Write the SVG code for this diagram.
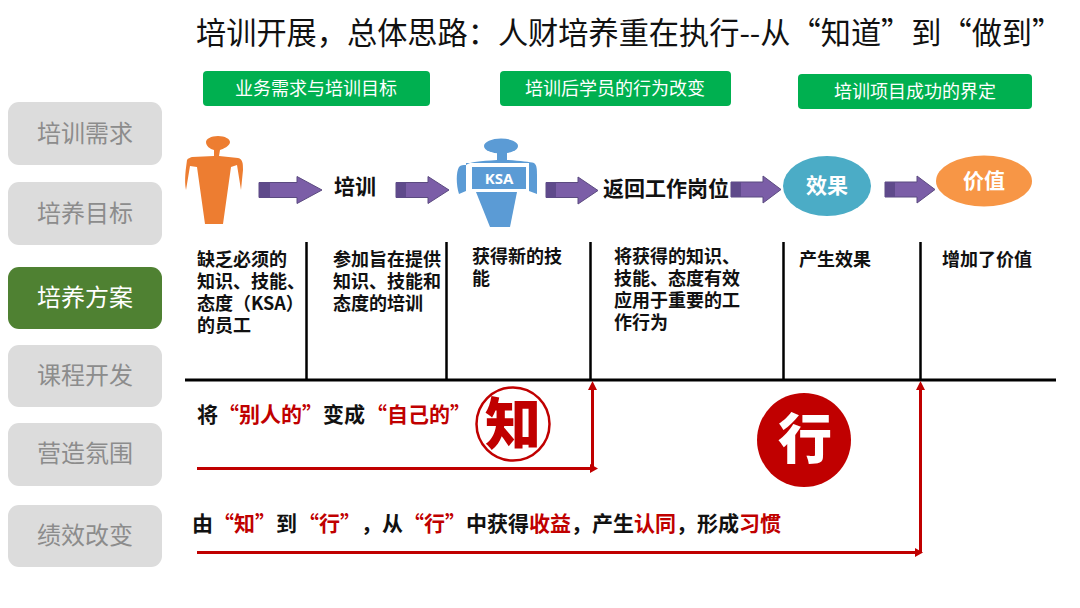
<svg xmlns="http://www.w3.org/2000/svg" width="1080" height="608" viewBox="0 0 1080 608">
<style>
text{font-family:"Microsoft YaHei","Noto Sans CJK SC","Noto Sans",sans-serif}
.side{fill:#dcdcdc}
.st{font-size:24px;fill:#8c8c8c;text-anchor:middle}
.g{fill:#00b050}
.gt{font-size:18px;fill:#fff;text-anchor:middle}
.b{font-size:21px;font-weight:700;fill:#111}
.d{font-size:18px;font-weight:700;fill:#111}
.r{fill:#c00000}
.ln{stroke:#000;stroke-width:2.5;fill:none}
.rl{stroke:#c00000;stroke-width:3;fill:none}
.w{fill:#fff;font-weight:700;text-anchor:middle}
.ar{fill:#7b5ea7;stroke:#5b4a80;stroke-width:1}
.at{fill:#5f4a8b}
.blue{fill:#5b9bd5}
</style>
<text id="title" x="196" y="44" font-size="30.200" fill="#111">培训开展，总体思路：人财培养重在执行--从“知道”到“做到”</text>
<g id="side1"><rect class="side" x="8" y="102" width="154" height="63" rx="11"/><text class="st" x="85" y="142">培训需求</text></g>
<g id="side2"><rect class="side" x="8" y="182" width="154" height="63" rx="11"/><text class="st" x="85" y="222">培养目标</text></g>
<g id="side3"><rect x="8" y="267" width="154" height="62" rx="11" fill="#4f8132"/><text class="st" style="fill:#fff" x="85" y="306">培养方案</text></g>
<g id="side4"><rect class="side" x="8" y="345" width="154" height="62" rx="11"/><text class="st" x="85" y="384">课程开发</text></g>
<g id="side5"><rect class="side" x="8" y="423" width="154" height="63" rx="11"/><text class="st" x="85" y="462">营造氛围</text></g>
<g id="side6"><rect class="side" x="8" y="505" width="154" height="62" rx="11"/><text class="st" x="85" y="544">绩效改变</text></g>
<g id="tag1"><rect class="g" x="203" y="71" width="227" height="35" rx="4"/><text class="gt" x="316" y="95">业务需求与培训目标</text></g>
<g id="tag2"><rect class="g" x="500" y="71" width="231" height="35" rx="4"/><text class="gt" x="615" y="95">培训后学员的行为改变</text></g>
<g id="tag3"><rect class="g" x="798" y="74" width="234" height="35" rx="4"/><text class="gt" x="915" y="98">培训项目成功的界定</text></g>
<g id="person1"><path fill="#ed7d31" d="M218 136C225 136 230 139 230 142C230 146 223 149 220 150L219 156L238 158C243 159 243 164 243 170L241 190L237 165L231 167L223 224H205L197 167L190 166L186 190C184 180 186 168 187 160C188 158 190 158 192 157L214 156L214 150C210 149 206 146 206 142C206 139 211 136 218 136Z"/></g>
<g id="person2">
<ellipse class="blue" cx="501" cy="146" rx="17" ry="7.500"/>
<rect class="blue" x="497" y="150" width="10" height="12"/>
<path class="blue" d="M466 165C470 162 480 161 497 160H507C520 161 530 162 534 163C537 165 537 170 537 175V194L529 191V163H466V191L459 194C456 185 456 172 459 167C461 165 463 165 466 165Z"/>
<path class="blue" d="M476 192H517L510 227H490Z"/>
<rect class="blue" x="472" y="167" width="54" height="22"/>
<text class="w" x="499" y="184" font-size="15" style="font-family:'Noto Sans',sans-serif">KSA</text></g>
<g id="n-train"><text class="b" x="334" y="194">培训</text></g>
<g id="n-return"><text class="b" x="603" y="196">返回工作岗位</text></g>
<g id="n-effect"><ellipse cx="827" cy="186" rx="44" ry="30" fill="#4bacc6"/><text class="w" x="827" y="193" font-size="21">效果</text></g>
<g id="n-value"><ellipse cx="984" cy="181" rx="48" ry="25.500" fill="#f79646"/><text class="w" x="984" y="188" font-size="21">价值</text></g>
<g id="desc">
<text class="d" x="197" y="266">缺乏必须的</text><text class="d" x="197" y="288">知识、技能、</text><text class="d" x="197" y="310">态度（KSA）</text><text class="d" x="197" y="332">的员工</text>
<text class="d" x="333" y="266">参加旨在提供</text><text class="d" x="333" y="288">知识、技能和</text><text class="d" x="333" y="310">态度的培训</text>
<text class="d" x="472" y="263">获得新的技</text><text class="d" x="472" y="285">能</text>
<text class="d" x="614" y="263">将获得的知识、</text><text class="d" x="614" y="285">技能、态度有效</text><text class="d" x="614" y="307">应用于重要的工</text><text class="d" x="614" y="329">作行为</text>
<text class="d" x="799" y="266">产生效果</text>
<text class="d" x="942" y="266">增加了价值</text>
</g>
<g id="zhi"><circle cx="513" cy="424" r="36.500" fill="#fff" stroke="#c00000" stroke-width="2.500"/><text x="513" y="444" font-size="56" font-weight="900" fill="#c00000" text-anchor="middle">知</text></g>
<g id="xing"><circle cx="804" cy="440" r="47" fill="#c00000"/><text x="805" y="459" font-size="54" font-weight="900" fill="#fff" text-anchor="middle">行</text></g>
<g id="line1"><text class="b" y="422"><tspan x="197">将</tspan><tspan class="r" x="218">“</tspan><tspan class="r" x="239">别人的</tspan><tspan class="r" x="302">”</tspan><tspan x="323">变成</tspan><tspan class="r" x="366">“</tspan><tspan class="r" x="387">自己的</tspan><tspan class="r" x="450">”</tspan></text></g>
<g id="line2"><text class="b" y="531"><tspan x="192">由</tspan><tspan class="r" x="213">“</tspan><tspan class="r" x="234">知</tspan><tspan class="r" x="255">”</tspan><tspan x="276">到</tspan><tspan class="r" x="298">“</tspan><tspan class="r" x="319">行</tspan><tspan class="r" x="340">”</tspan><tspan x="361">，</tspan><tspan x="382">从</tspan><tspan class="r" x="403">“</tspan><tspan class="r" x="424">行</tspan><tspan class="r" x="445">”</tspan><tspan x="466">中获得</tspan><tspan class="r" x="529">收益</tspan><tspan x="571">，产生</tspan><tspan class="r" x="634">认同</tspan><tspan x="676">，形成</tspan><tspan class="r" x="739">习惯</tspan></text></g>
<g id="connectors">
<path class="ar" d="M259 182.500H297V176.500L322 190L297 203.500V197.500H259Z"/><rect class="at" x="259" y="182.500" width="11" height="15"/>
<path class="ar" d="M396 182.500H428V176.500L449 190L428 203.500V197.500H396Z"/><rect class="at" x="396" y="182.500" width="10" height="15"/>
<path class="ar" d="M546 182.500H578V177L598 190.500L578 204V197.500H546Z"/><rect class="at" x="546" y="182.500" width="10" height="15"/>
<path class="ar" d="M731 182H763V176L781 189.500L763 203V197H731Z"/><rect class="at" x="731" y="182" width="10" height="15"/>
<path class="ar" d="M885 182H917V176L935 189.500L917 203V197H885Z"/><rect class="at" x="885" y="182" width="10" height="15"/>
<path class="ln" d="M306.500 242V380M446.500 242V380M590.500 242V380M783.500 242V380M920.500 242V380"/>
<path d="M185 380H1056" stroke="#000" stroke-width="3"/>
<path class="rl" d="M197 468.500H592M592.500 468.500V388M197 552.500H915M920.500 552.500V388"/>
<path class="r" d="M592.500 381L597 390H588ZM598 468.500L590 473V464ZM920.500 381L925 390H916ZM923 552.500L915 557V548Z"/>
</g>
</svg>
